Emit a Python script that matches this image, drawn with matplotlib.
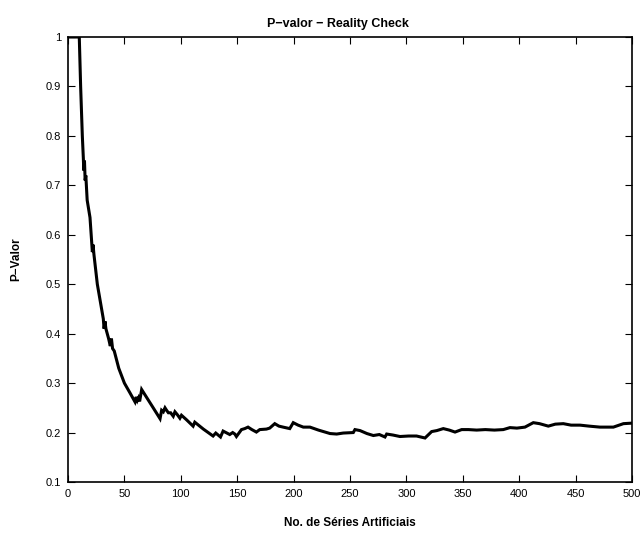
import matplotlib
matplotlib.use("Agg")
import matplotlib.pyplot as plt

plt.rcParams['font.family'] = ['Liberation Sans', 'DejaVu Sans']

# Number of artificial series (x) and p-value (y)
n_series = [1, 10, 11.2, 12.7, 13.6, 14.0, 14.6, 15.2, 15.8, 17, 19.5, 21, 21.6, 22.2, 23, 26,
            31.3, 32, 32.8, 33.6, 36, 37.5, 38.5, 39.5, 41, 45, 50, 55, 59.4, 60.5, 61.5, 62.5,
            63.5, 65.3, 70, 75, 81.6, 83, 84.5, 86, 87.4, 89, 91, 93.3, 94.8, 97, 99.2, 100.6,
            105, 110.9, 112.4, 120, 128.6, 131, 135.2, 137.5, 143.4, 146, 147.9, 149.3, 153.8,
            156.7, 159.6, 163, 167, 170, 175.9, 178.8, 183.3, 187, 190.7, 196.6, 199.7, 204,
            208.6, 214.5, 222, 232.3, 238.2, 244, 252.9, 254.4, 258.9, 265, 270.7, 276, 281,
            282.5, 288, 294.3, 302, 309, 316.5, 322.4, 327, 332.7, 338, 343.1, 349, 355, 362.3,
            370, 378, 385.9, 391.8, 398, 405.1, 412.5, 418, 425.8, 432, 439.1, 446, 453.9, 462,
            471.6, 483.5, 492.4, 499.7]
p_value = [1.0, 1.0, 0.90, 0.80, 0.755, 0.73, 0.75, 0.71, 0.72, 0.67, 0.635, 0.585, 0.565, 0.58,
           0.56, 0.50, 0.43, 0.41, 0.425, 0.41, 0.39, 0.375, 0.39, 0.37, 0.365, 0.33, 0.30, 0.28,
           0.262, 0.272, 0.265, 0.27, 0.263, 0.287, 0.27, 0.252, 0.228, 0.245, 0.242, 0.25, 0.245,
           0.24, 0.24, 0.233, 0.242, 0.236, 0.229, 0.235, 0.226, 0.213, 0.221, 0.207, 0.193, 0.199,
           0.191, 0.203, 0.196, 0.2, 0.197, 0.192, 0.206, 0.208, 0.211, 0.206, 0.201, 0.206, 0.207,
           0.209, 0.218, 0.213, 0.211, 0.208, 0.22, 0.215, 0.211, 0.211, 0.205, 0.198, 0.197,
           0.199, 0.200, 0.206, 0.204, 0.198, 0.194, 0.196, 0.191, 0.197, 0.195, 0.192, 0.193,
           0.193, 0.189, 0.202, 0.204, 0.208, 0.205, 0.201, 0.206, 0.206, 0.205, 0.206, 0.205,
           0.206, 0.21, 0.209, 0.211, 0.22, 0.218, 0.213, 0.217, 0.218, 0.215, 0.215, 0.213,
           0.211, 0.211, 0.218, 0.219]

x_ticks = [0, 50, 100, 150, 200, 250, 300, 350, 400, 450, 500]
y_ticks = [0.1, 0.2, 0.3, 0.4, 0.5, 0.6, 0.7, 0.8, 0.9, 1]
y_ticklabels = ['0.1', '0.2', '0.3', '0.4', '0.5', '0.6', '0.7', '0.8', '0.9', '1']

fig = plt.figure(figsize=(6.43, 5.34), dpi=100)
ax = fig.add_axes([68/643, 52/534, 564/643, 445/534])
ax.plot(n_series, p_value, color='black', lw=2.2, solid_joinstyle='miter')
ax.set_xlim(0, 500)
ax.set_ylim(0.1, 1)
ax.set_xticks(x_ticks)
ax.set_yticks(y_ticks)
ax.set_yticklabels(y_ticklabels)
ax.tick_params(direction='in', top=True, right=True, length=5, width=0.8,
               labelsize=8, pad=5)
for s in ax.spines.values():
    s.set_linewidth(1.2)

ax.set_title('P\u2212valor \u2212 Reality Check', fontsize=9, fontweight='bold', pad=7.5, x=0.478)
ax.set_xlabel('No. de Séries Artificiais', fontsize=8.5, fontweight='bold', labelpad=13)
ax.set_ylabel('P\u2212Valor', fontsize=8.5, fontweight='bold', labelpad=17)

fig.savefig('out.png', dpi=100)
